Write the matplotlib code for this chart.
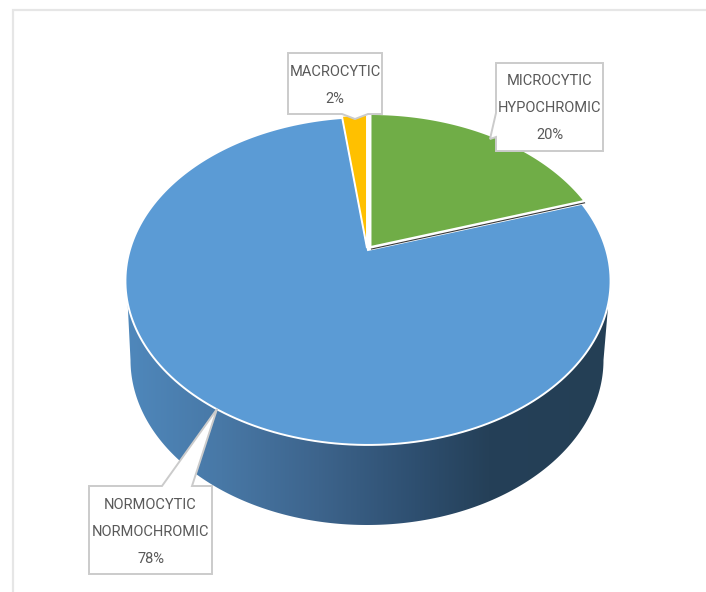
import numpy as np
import matplotlib
matplotlib.use("Agg")
import matplotlib.pyplot as plt
from matplotlib.colors import LinearSegmentedColormap
from matplotlib.patches import Polygon

# data
labels = ["MICROCYTIC\nHYPOCHROMIC\n20%", "NORMOCYTIC\nNORMOCHROMIC\n78%", "MACROCYTIC\n2%"]
values = [20, 78, 2]
colors = ["#70AD47", "#5B9BD5", "#FFC000"]
offsets = [(2.5, -3), (0, 0), (-1, -2)]  # slice explosion, px

# pie geometry in pixels (y down)
CX, CY = 368, 250
K = 0.189
A_Y = 158.1
A_X = 238.2
WALL_CY, WALL_RX, WALL_RY = 360, 236.5, 165
TXT = "#595959"
EDGE = "#CBCBCB"

plt.rcParams["font.family"] = ["Roboto", "DejaVu Sans"]


def persp(theta, dx=0, dy=0):
    # theta in rad, clockwise from 12 o'clock, onto tilted disc
    sx, sy = np.sin(theta), np.cos(theta)
    d = 1 + K * sy
    return CX + dx + A_X * sx / d, CY + dy - A_Y * sy / d


fig = plt.figure(figsize=(7.06, 5.92), dpi=100)
ax = fig.add_axes([0, 0, 1, 1])

# page frame, only top and left are visible
ax.plot([13, 13, 706], [592, 9.5, 9.5], color="#E6E6E6", lw=1.6, solid_joinstyle="miter")

# side wall with horizontal gradient
t = np.linspace(1.892, 4.391, 200)
top_x, top_y = persp(t)
phi = np.linspace(0, np.pi, 200)
bot_x = 367 + WALL_RX * np.cos(phi)
bot_y = WALL_CY + WALL_RY * np.sin(phi)
wall = Polygon(np.column_stack([np.r_[top_x, bot_x[::-1]], np.r_[top_y, bot_y[::-1]]]),
               closed=True, fc="none", ec="none")
ax.add_patch(wall)
cmap = LinearSegmentedColormap.from_list("wall", [
    (0.0, "#4F88BC"), (0.2, "#4878A6"), (0.4, "#3D648C"),
    (0.6, "#2E4F70"), (0.75, "#254058"), (1.0, "#243F55")])
im = ax.imshow(np.linspace(0, 1, 256)[None, :], cmap=cmap, aspect="auto",
               extent=(124, 610, 530, 270), zorder=1)
im.set_clip_path(wall)

# slices, clockwise from the top
start = 0.0
edges = {}
for val, col, (dx, dy) in zip(values, colors, offsets):
    span = 2 * np.pi * val / sum(values)
    th = np.linspace(start, start + span, 200)
    x, y = persp(th, dx, dy)
    ax.fill(np.r_[CX + dx, x], np.r_[CY + dy, y], fc=col, ec="white", lw=1.4, zorder=3)
    edges[col] = (x, y, CX + dx, CY + dy)
    start += span

# thin dark side of the lifted green slice
gx, gy, gcx, gcy = edges[colors[0]]
ax.plot([gcx + 1, gx[-1]], [gcy + 2, gy[-1] + 2], color="#3A3A3A", lw=0.8, zorder=4)

# callouts: outline of the box with its pointer, then the text
callouts = [
    ([(496, 63), (603, 63), (603, 151), (496, 151), (496, 137), (490, 139), (496, 113)], (549.5, 108)),
    ([(89, 486), (162, 486), (217, 409), (192, 486), (212, 486), (212, 574), (89, 574)], (150.5, 532)),
    ([(288, 53), (382, 53), (382, 114), (368, 114), (355, 119), (342, 114), (288, 114)], (335, 85.5)),
]
for lab, (outline, pos) in zip(labels, callouts):
    ax.add_patch(Polygon(outline, closed=True, fc="white", ec=EDGE, lw=1.4, zorder=5))
    ax.text(pos[0], pos[1], lab, ha="center", va="center", fontsize=10.5, color=TXT,
            linespacing=2.2, zorder=6)

ax.set_xlim(0, 706)
ax.set_ylim(592, 0)
ax.axis("off")
fig.savefig("out.png", dpi=100, facecolor="white")
